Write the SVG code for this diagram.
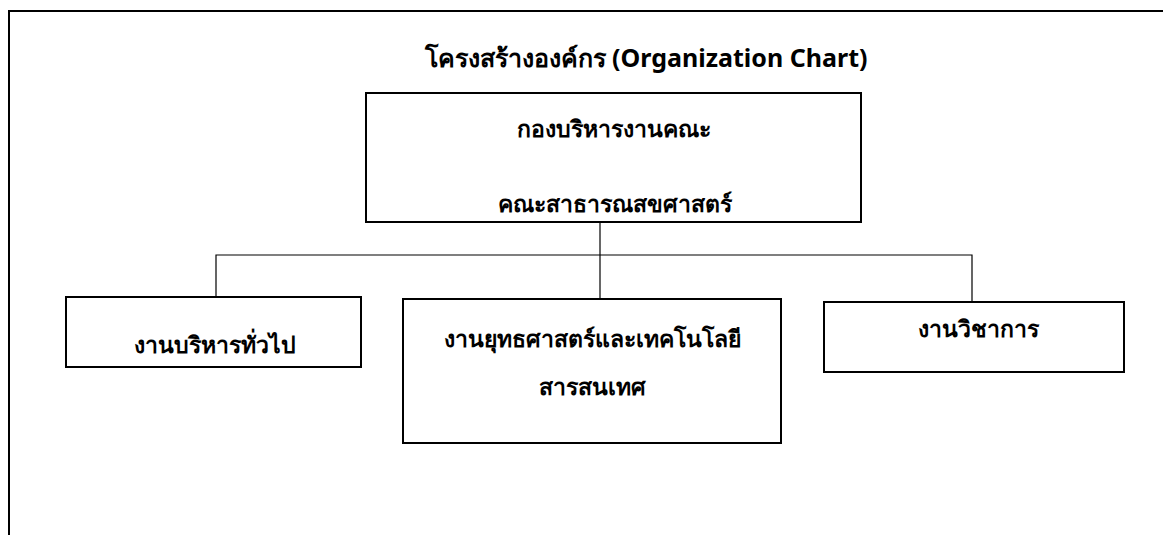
<svg xmlns="http://www.w3.org/2000/svg" width="1163" height="535" viewBox="0 0 1163 535">
<style>
.box{fill:#fff;stroke:#000;stroke-width:2}
.con{fill:none;stroke:#000;stroke-width:1.2}
.frame{fill:none;stroke:#000;stroke-width:2}
text{font-family:"Noto Sans","DejaVu Sans",sans-serif;font-size:23px;font-weight:bold;fill:#000;text-anchor:middle}
.title{font-size:25px}
</style>
<rect width="1163" height="535" fill="#fff"/>
<path class="frame" d="M9,535 V11 H1163"/>
<text class="title" x="646" y="67">โครงสร้างองค์กร (Organization Chart)</text>
<g id="connectors">
<path class="con" d="M600,222 V299"/>
<path class="con" d="M216,297 V255 H972 V302"/>
</g>
<g id="n-top">
<rect class="box" x="366" y="93" width="495" height="129"/>
<text x="614" y="137">กองบริหารงานคณะ</text>
<text x="615" y="212">คณะสาธารณสขศาสตร์</text>
</g>
<g id="n-left">
<rect class="box" x="66" y="297" width="295" height="70"/>
<text x="215" y="353">งานบริหารทั่วไป</text>
</g>
<g id="n-mid">
<rect class="box" x="403" y="299" width="378" height="144"/>
<text x="592" y="347">งานยุทธศาสตร์และเทคโนโลยี</text>
<text x="592" y="395">สารสนเทศ</text>
</g>
<g id="n-right">
<rect class="box" x="824" y="302" width="300" height="70"/>
<text x="978" y="337">งานวิชาการ</text>
</g>
</svg>
